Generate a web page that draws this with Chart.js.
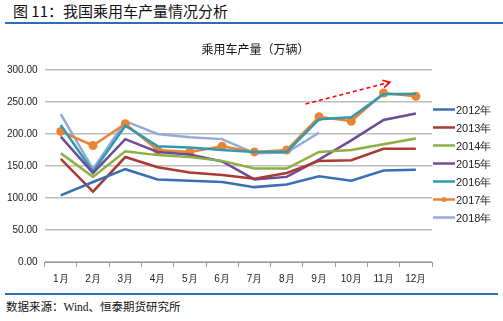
<!DOCTYPE html>
<html>
<head>
<meta charset="utf-8">
<script src="https://cdn.jsdelivr.net/npm/chart.js@4.4.0/dist/chart.umd.min.js"></script>
<style>
  body { margin: 0; width: 503px; height: 321px; background: #fff; position: relative; overflow: hidden;
         font-family: "Noto Sans CJK SC", sans-serif; }
  #head { position: absolute; left: 13px; top: 0px; font-size: 15px; color: #111; }
  #headLine { position: absolute; left: 5px; right: 0; top: 22px; height: 2px; background: #2e6db4; }
  #footLine { position: absolute; left: 5px; right: 5px; top: 293px; height: 2px; background: #2e6db4; }
  #foot { position: absolute; left: 6px; top: 298px; font-size: 11.5px; color: #111;
          font-family: "Liberation Serif", "Noto Sans CJK SC", serif; }
  #wrap { position: absolute; left: 0; top: 26px; width: 503px; height: 265px; }
</style>
</head>
<body>
<div id="head">图 11：我国乘用车产量情况分析</div>
<div id="headLine"></div>
<div id="wrap"><canvas id="chart"></canvas></div>
<div id="footLine"></div>
<div id="foot">数据来源：Wind、恒泰期货研究所</div>
<script>
const months = ['1月', '2月', '3月', '4月', '5月', '6月', '7月', '8月', '9月', '10月', '11月', '12月'];

const y2012 = [104, 125, 145, 129, 127, 125, 117, 121, 134, 127, 143, 144];
const y2013 = [161, 110, 164, 148, 140, 136, 130, 139, 158, 159, 177, 177];
const y2014 = [170, 133, 173, 167, 164, 158, 146, 146, 172, 175, 184, 193];
const y2015 = [196, 139, 192, 172, 168, 157, 129, 133, 160, 190, 222, 232];
const y2016 = [214, 141, 213, 181, 179, 175, 172, 172, 223, 226, 262, 263];
const y2017 = [204, 182, 216, 175, 172, 181, 172, 175, 227, 220, 264, 259];
const y2018 = [231, 145, 220, 200, 195, 192, 170, 171, 202];

const chartTitle = '乘用车产量（万辆）';

// trend arrow, in category index / value units
const arrowX = [7.58, 10.2];
const arrowY = [247, 281];

function line(label, data, color, withDots = false)
{
    return {
        label: label,
        data: data,
        borderColor: color,
        backgroundColor: color,
        borderWidth: 2.5,
        pointRadius: withDots ? 4.5 : 0,
        pointHoverRadius: withDots ? 4.5 : 0,
        pointBackgroundColor: color,
        pointBorderWidth: 0,
        tension: 0
    };
}

const arrowPlugin = {
    id: 'arrow',
    afterDatasetsDraw(chart) {
        const ctx = chart.ctx;
        const xs = chart.scales.x, ys = chart.scales.y;
        const x1 = xs.getPixelForValue(arrowX[0]), y1 = ys.getPixelForValue(arrowY[0]);
        const x2 = xs.getPixelForValue(arrowX[1]), y2 = ys.getPixelForValue(arrowY[1]);
        const ang = Math.atan2(y2 - y1, x2 - x1);
        ctx.save();
        ctx.strokeStyle = '#ff0000';
        ctx.lineWidth = 1.5;
        ctx.setLineDash([4, 3]);
        ctx.beginPath();
        ctx.moveTo(x1, y1);
        ctx.lineTo(x2, y2);
        ctx.stroke();
        ctx.setLineDash([]);
        ctx.beginPath();
        ctx.moveTo(x2 - 8 * Math.cos(ang - 0.5), y2 - 8 * Math.sin(ang - 0.5));
        ctx.lineTo(x2, y2);
        ctx.lineTo(x2 - 8 * Math.cos(ang + 0.5), y2 - 8 * Math.sin(ang + 0.5));
        ctx.stroke();
        ctx.restore();
    }
};

// title over the whole chart box (plot + legend), like the original
const topTitle = {
    id: 'topTitle',
    afterDraw(chart) {
        const ctx = chart.ctx;
        ctx.save();
        ctx.font = '12px "Noto Sans CJK SC"';
        ctx.fillStyle = '#111';
        ctx.textAlign = 'center';
        ctx.textBaseline = 'middle';
        ctx.fillText(chartTitle, chart.width / 2 + 4, chart.chartArea.top - 21);
        ctx.restore();
    }
};

// legend to the right of the plot, one row per dataset
const sideLegend = {
    id: 'sideLegend',
    afterDraw(chart) {
        const ctx = chart.ctx;
        const area = chart.chartArea;
        const sets = chart.data.datasets;
        const rowH = 18;
        const top = (area.top + area.bottom) / 2 - 2.5 - rowH * (sets.length - 1) / 2;
        ctx.save();
        ctx.font = '11px "Liberation Sans"';
        ctx.textBaseline = 'middle';
        sets.forEach((ds, i) => {
            const y = top + i * rowH;
            const x = area.right + 1;
            ctx.strokeStyle = ds.borderColor;
            ctx.lineWidth = 2.5;
            ctx.beginPath();
            ctx.moveTo(x, y);
            ctx.lineTo(x + 22, y);
            ctx.stroke();
            if (ds.pointRadius > 0) {
                ctx.fillStyle = ds.borderColor;
                ctx.beginPath();
                ctx.arc(x + 11, y, 2.5, 0, Math.PI * 2);
                ctx.fill();
            }
            ctx.fillStyle = '#222';
            ctx.fillText(ds.label, x + 23, y + 1);
        });
        ctx.restore();
    }
};

new Chart(document.getElementById('chart'), {
    type: 'line',
    data: {
        labels: months,
        datasets: [
            line('2012年', y2012, '#3a6fb3'),
            line('2013年', y2013, '#aa3a33'),
            line('2014年', y2014, '#8bb043'),
            line('2015年', y2015, '#6d4b97'),
            line('2016年', y2016, '#2f9ab2'),
            line('2017年', y2017, '#ea8434', true),
            line('2018年', y2018, '#94abd6')
        ]
    },
    plugins: [arrowPlugin, topTitle, sideLegend],
    options: {
        responsive: true,
        maintainAspectRatio: false,
        animation: false,
        layout: { padding: { left: 0, right: 71, top: 44, bottom: 0 } },
        plugins: {
            legend: { display: false },
            tooltip: { enabled: false }
        },
        scales: {
            x: {
                offset: true,
                grid: { offset: true, drawOnChartArea: false, drawTicks: true, tickLength: 5, color: '#999' },
                border: { color: '#999' },
                ticks: { color: '#222', font: { family: 'Liberation Sans', size: 10 }, padding: 6 }
            },
            y: {
                min: 0,
                max: 300,
                ticks: {
                    stepSize: 50,
                    color: '#222',
                    font: { family: 'Liberation Sans', size: 10 },
                    padding: 7,
                    callback: v => v.toFixed(2)
                },
                grid: { color: '#bdbdbd', lineWidth: 1.5, drawTicks: false },
                border: { display: false }
            }
        }
    }
});
</script>
</body>
</html>
